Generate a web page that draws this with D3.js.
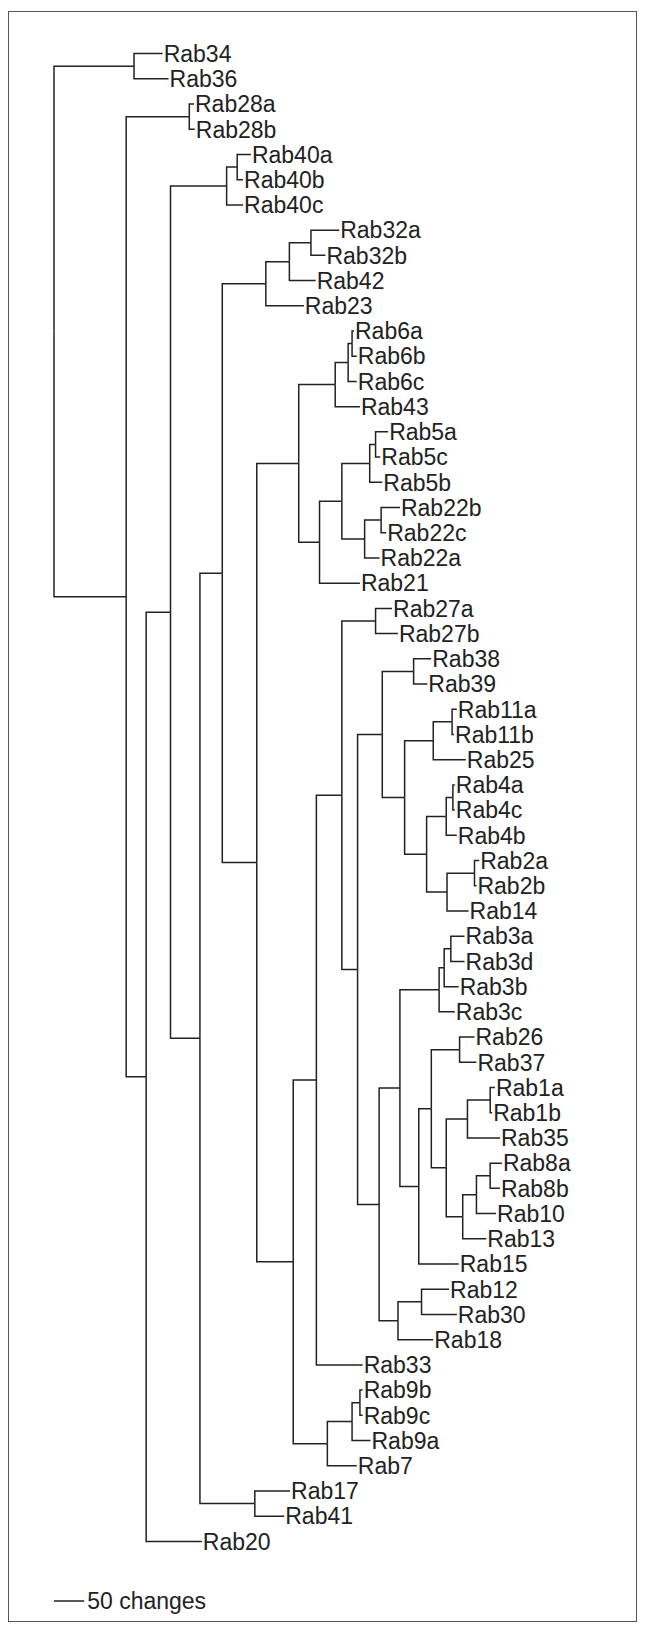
<!DOCTYPE html>
<html>
<head>
<meta charset="utf-8">
<script src="https://cdn.jsdelivr.net/npm/d3@7"></script>
<style>
  body { margin: 0; background: #fff; }
  svg { display: block; }
</style>
</head>
<body>
<div id="container"></div>
<script>
const width = 645; // page size
const height = 1628;
const rootX = 54; // where the root sits
const leafTop = 41; // first and last leaf
const leafBottom = 1554;

// tree as child / parent / branch length (changes), children listed top to bottom
const childNames = [
  "n34", "A", "Rab34", "Rab36", "n28", "B", "Rab28a", "Rab28b",
  "C", "Rab20", "n40", "D", "n40ab", "Rab40c", "Rab40a", "Rab40b",
  "E", "n17", "Rab17", "Rab41", "n32grp", "F", "n32x", "Rab23",
  "n32", "Rab42", "Rab32a", "Rab32b", "G", "O", "H", "K",
  "I6", "Rab43", "J6", "Rab6c", "Rab6a", "Rab6b", "L", "Rab21",
  "M5", "N22", "n5ac", "Rab5b", "Rab5a", "Rab5c", "n22bc", "Rab22a",
  "Rab22b", "Rab22c", "P", "n97", "Q", "Rab33", "n27", "R",
  "Rab27a", "Rab27b", "S", "V", "n38", "T", "Rab38", "Rab39",
  "n11grp", "U", "n11", "Rab25", "Rab11a", "Rab11b", "n4grp", "n2grp",
  "n4ac", "Rab4b", "Rab4a", "Rab4c", "n2", "Rab14", "Rab2a", "Rab2b",
  "W", "n12grp", "n3grp", "X", "n3x", "Rab3c", "n3ad", "Rab3b",
  "Rab3a", "Rab3d", "Y", "Rab15", "n26", "Z", "Rab26", "Rab37",
  "n1grp", "n8grp", "n1", "Rab35", "Rab1a", "Rab1b", "n8x", "Rab13",
  "n8", "Rab10", "Rab8a", "Rab8b", "n12", "Rab18", "Rab12", "Rab30",
  "n9x", "Rab7", "n9bc", "Rab9a", "Rab9b", "Rab9c"
];
const parentNames = [
  "root", "root", "n34", "n34", "A", "A", "n28", "n28",
  "B", "B", "C", "C", "n40", "n40", "n40ab", "n40ab",
  "D", "D", "n17", "n17", "E", "E", "n32grp", "n32grp",
  "n32x", "n32x", "n32", "n32", "F", "F", "G", "G",
  "H", "H", "I6", "I6", "J6", "J6", "K", "K",
  "L", "L", "M5", "M5", "n5ac", "n5ac", "N22", "N22",
  "n22bc", "n22bc", "O", "O", "P", "P", "Q", "Q",
  "n27", "n27", "R", "R", "S", "S", "n38", "n38",
  "T", "T", "n11grp", "n11grp", "n11", "n11", "U", "U",
  "n4grp", "n4grp", "n4ac", "n4ac", "n2grp", "n2grp", "n2", "n2",
  "V", "V", "W", "W", "n3grp", "n3grp", "n3x", "n3x",
  "n3ad", "n3ad", "X", "X", "Y", "Y", "n26", "n26",
  "Z", "Z", "n1grp", "n1grp", "n1", "n1", "n8grp", "n8grp",
  "n8x", "n8x", "n8", "n8", "n12grp", "n12grp", "n12", "n12",
  "n97", "n97", "n9x", "n9x", "n9bc", "n9bc"
];
const branchLengths = [
  132.5, 119.5, 47.4, 57.1, 104.5, 33.1, 7.8, 9.1,
  40.3, 92.2, 92.9, 48.7, 17.5, 27.3, 22.7, 9.7,
  37.0, 90.9, 58.4, 48.7, 72.1, 57.1, 39.0, 63.0,
  35.7, 43.5, 46.8, 24.0, 69.5, 60.4, 60.4, 34.4,
  21.4, 40.9, 6.5, 14.3, 3.2, 7.8, 37.0, 66.9,
  46.1, 37.7, 9.7, 20.8, 20.8, 7.8, 27.3, 24.7,
  31.2, 8.4, 38.3, 56.5, 42.2, 76.6, 55.8, 26.0,
  27.3, 37.0, 40.9, 35.7, 51.9, 37.0, 29.2, 22.7,
  47.4, 36.4, 31.2, 53.9, 7.8, 3.2, 32.5, 33.8,
  11.0, 17.5, 3.2, 3.2, 45.5, 35.7, 7.8, 3.2,
  34.4, 31.2, 64.9, 31.2, 8.4, 26.0, 11.0, 24.0,
  22.7, 22.7, 20.8, 66.2, 46.8, 24.7, 24.7, 27.9,
  35.1, 27.3, 37.7, 53.9, 7.8, 3.2, 22.7, 39.0,
  22.7, 32.5, 19.5, 16.2, 39.0, 58.4, 45.5, 58.4,
  40.9, 48.7, 13.0, 30.5, 4.5, 4.5
];
const scaleBarChanges = 50;
const scaleBarLabel = "50 changes";

const rows = [{ id: "root", parent: null, len: 0 }].concat(
  childNames.map((c, i) => ({ id: c, parent: parentNames[i], len: branchLengths[i] }))
);

const root = d3.stratify()
  .id(d => d.id)
  .parentId(d => d.parent)(rows);

// even leaf spacing, parents at the middle of their children
d3.cluster()
  .size([leafBottom - leafTop, 1])
  .separation(() => 1)(root);

// cumulative branch length from the root
root.eachBefore(d => {
  d.dist = d.parent ? d.parent.dist + d.data.len : 0;
});

const x = d3.scaleLinear()
  .domain([0, scaleBarChanges])
  .range([rootX, rootX + 30.2]);
const y = v => leafTop + v;

const svg = d3.select("#container").append("svg")
  .attr("width", width)
  .attr("height", height)
  .attr("viewBox", [0, 0, width, height]);

// frame
svg.append("rect")
  .attr("x", 8.5)
  .attr("y", 11.5)
  .attr("width", 628)
  .attr("height", 1610)
  .attr("fill", "none")
  .attr("stroke", "#555")
  .attr("stroke-width", 1);

svg.append("g")
  .attr("fill", "none")
  .attr("stroke", "#222")
  .attr("stroke-width", 1.5)
  .selectAll("path")
  .data(root.links())
  .join("path")
  .attr("d", l => `M${x(l.source.dist)},${y(l.source.x)}V${y(l.target.x)}H${x(l.target.dist)}`);

svg.append("g")
  .attr("font-family", "'Liberation Sans', Arial, sans-serif")
  .attr("font-size", 23)
  .attr("fill", "#222")
  .selectAll("text")
  .data(root.leaves())
  .join("text")
  .attr("x", d => x(d.dist) + 1)
  .attr("y", d => y(d.x))
  .attr("dy", "0.36em")
  .text(d => d.id);

// scale bar
const barY = 1601;
svg.append("line")
  .attr("x1", x(0))
  .attr("x2", x(scaleBarChanges))
  .attr("y1", barY)
  .attr("y2", barY)
  .attr("stroke", "#222")
  .attr("stroke-width", 1.5);

svg.append("text")
  .attr("x", x(scaleBarChanges) + 3)
  .attr("y", barY)
  .attr("dy", "0.36em")
  .attr("font-family", "'Liberation Sans', Arial, sans-serif")
  .attr("font-size", 23)
  .attr("fill", "#222")
  .text(scaleBarLabel);
</script>
</body>
</html>
